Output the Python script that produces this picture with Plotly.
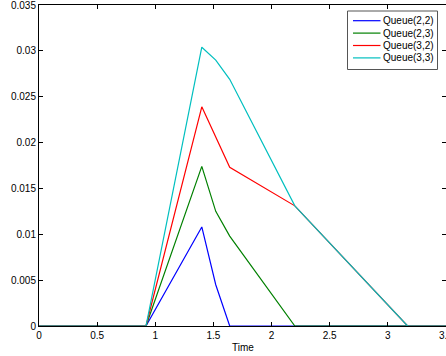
import plotly.graph_objects as go

# Data
t22 = [0, 0.92, 1.40, 1.52, 1.64, 3.5]
q22 = [0, 0, 0.0108, 0.0045, 0, 0]

t23 = [0, 0.92, 1.40, 1.52, 1.64, 2.20, 3.5]
q23 = [0, 0, 0.0174, 0.0125, 0.0098, 0, 0]

t32 = [0, 0.92, 1.40, 1.64, 2.20, 3.17, 3.5]
q32 = [0, 0, 0.0239, 0.0173, 0.0131, 0, 0]

t33 = [0, 0.92, 1.40, 1.52, 1.64, 2.20, 3.17, 3.5]
q33 = [0, 0, 0.0304, 0.0290, 0.0269, 0.0131, 0, 0]

names = ["Queue(2,2)", "Queue(2,3)", "Queue(3,2)", "Queue(3,3)"]
colors = ["#0000ff", "#008000", "#ff0000", "#00bfbf"]

xticks = [0, 0.5, 1, 1.5, 2, 2.5, 3, 3.5]
xticklabels = ["0", "0.5", "1", "1.5", "2", "2.5", "3", "3.5"]
yticks = [0, 0.005, 0.01, 0.015, 0.02, 0.025, 0.03, 0.035]
yticklabels = ["0", "0.005", "0.01", "0.015", "0.02", "0.025", "0.03", "0.035"]

W, H = 446, 356
ML, MR, MT, MB = 39, 0, 5, 30
PW, PH = W - ML - MR, H - MT - MB


def px(xp):
    return (xp - ML) / PW


def py(yp):
    return (H - MB - yp) / PH


fig = go.Figure()
for tx, qy, nm, c in zip([t22, t23, t32, t33], [q22, q23, q32, q33], names, colors):
    fig.add_trace(go.Scatter(x=tx, y=qy, mode="lines", name=nm, showlegend=False,
                             line=dict(color=c, width=1.2)))

font = dict(family="Liberation Sans, Arial, sans-serif", size=10, color="#000")
axis_common = dict(showline=True, linecolor="#000", linewidth=1, mirror="allticks",
                   ticks="inside", ticklen=4, tickcolor="#000", showgrid=False,
                   zeroline=False, tickfont=font, automargin=False,
                   ticklabeloverflow="allow")

# Legend box drawn in paper space
shapes = [dict(type="rect", xref="paper", yref="paper",
               x0=px(347.5), x1=px(437.5), y0=py(69.5), y1=py(11),
               line=dict(color="#555", width=1), fillcolor="white", layer="above")]
annotations = [dict(text="Time", xref="paper", yref="paper", x=0.5, y=py(347.5),
                    xanchor="center", yanchor="middle", showarrow=False, font=font)]
row_y = [20.7, 33.1, 45.5, 57.9]
for ry, nm, c in zip(row_y, names, colors):
    shapes.append(dict(type="line", xref="paper", yref="paper",
                       x0=px(353), x1=px(380.5), y0=py(ry), y1=py(ry),
                       line=dict(color=c, width=1.2), layer="above"))
    annotations.append(dict(text=nm, xref="paper", yref="paper", x=px(381), y=py(ry),
                            xanchor="left", yanchor="middle", showarrow=False,
                            font=font))

fig.update_layout(
    width=W, height=H,
    margin=dict(l=ML, r=MR, t=MT, b=MB),
    paper_bgcolor="white", plot_bgcolor="white",
    font=font,
    showlegend=False,
    xaxis=dict(range=[0, 3.5], tickvals=xticks, ticktext=xticklabels,
               **axis_common),
    yaxis=dict(range=[0, 0.0350001], tickvals=yticks, ticktext=yticklabels,
               **axis_common),
    shapes=shapes,
    annotations=annotations,
)

fig.write_html("out.html", config={"displayModeBar": False},
               post_script="document.body.style.margin='0';document.body.style.padding='0';")
